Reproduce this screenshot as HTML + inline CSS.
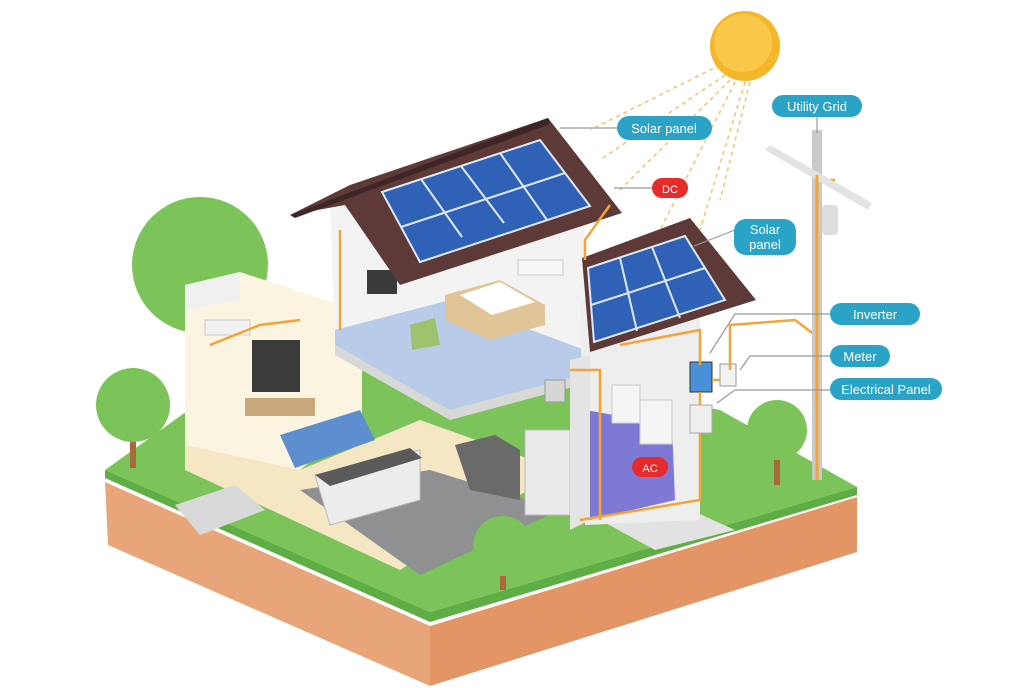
<!DOCTYPE html>
<html><head><meta charset="utf-8"><style>
html,body{margin:0;padding:0;background:#fff;}
svg{display:block}
text{font-family:"Liberation Sans",sans-serif;}
</style></head><body>
<svg width="1036" height="688" viewBox="0 0 1036 688" xmlns="http://www.w3.org/2000/svg">
<!-- sun rays -->
<g stroke="#f5c26b" stroke-width="1.5" stroke-dasharray="4,4" fill="none">
<line x1="720" y1="65" x2="590" y2="130"/><line x1="725" y1="75" x2="600" y2="160"/>
<line x1="730" y1="80" x2="620" y2="190"/><line x1="735" y1="82" x2="660" y2="230"/>
<line x1="745" y1="82" x2="700" y2="230"/><line x1="750" y1="82" x2="720" y2="200"/>
</g>
<circle cx="745" cy="46" r="35" fill="#f6b62b"/>
<circle cx="743" cy="43" r="29" fill="#f9c84a"/>
<!-- ground -->
<polygon points="105,482 430,626 430,686 108,545" fill="#e9a57a"/>
<polygon points="430,626 857,497 857,552 430,686" fill="#e39566"/>
<polygon points="105,470 430,612 857,487 720,410 300,330" fill="#7cc35a"/>
<polygon points="105,478 430,622 857,495 857,487 430,612 105,470" fill="#5fae45"/>
<polygon points="600,520 680,505 735,530 655,550" fill="#e2e2e2"/>
<!-- big tree -->
<circle cx="200" cy="265" r="68" fill="#7cc35a"/>
<!-- left wing -->
<polygon points="185,285 240,272 362,312 362,420 300,470 185,450" fill="#fbf4e1"/>
<polygon points="185,285 240,272 240,300 185,310" fill="#f0f0f0"/>
<polygon points="185,445 300,470 420,420 560,470 400,570 185,470" fill="#f6e7c4"/>
<polygon points="300,490 430,470 560,510 420,575" fill="#8f9092"/>
<rect x="252" y="340" width="48" height="52" fill="#3b3b3b"/>
<rect x="205" y="320" width="45" height="15" fill="#f2f2f2" stroke="#ccc"/>
<rect x="245" y="398" width="70" height="18" fill="#c9a97b"/>
<polygon points="280,435 360,410 375,440 295,468" fill="#5d8fd0"/>
<polygon points="315,475 420,450 420,500 330,525" fill="#ececec" stroke="#bbb"/>
<polygon points="315,475 410,448 422,458 330,486" fill="#5a5a5a"/>
<polygon points="175,505 235,485 265,510 200,535" fill="#d9d9d9"/>
<!-- upper floor -->
<polygon points="330,200 445,150 585,215 585,380 520,380 430,395 335,340" fill="#f3f3f3"/>
<polygon points="335,330 450,300 585,350 580,380 450,410 335,345" fill="#b8ccea"/>
<polygon points="335,345 450,410 580,375 580,385 450,420 335,355" fill="#d8d8d8"/>
<polygon points="445,295 500,280 545,305 545,325 490,340 445,320" fill="#e2c597"/>
<polygon points="460,295 500,282 535,302 492,315" fill="#fff"/>
<rect x="367" y="270" width="30" height="24" fill="#3a3a3a"/>
<polygon points="410,325 435,318 440,345 412,350" fill="#9cc46e"/>
<rect x="518" y="260" width="45" height="15" fill="#f7f7f7" stroke="#ccc"/>
<!-- right section -->
<polygon points="580,300 700,290 700,520 585,525" fill="#eeeeee"/>
<polygon points="585,410 672,425 675,500 590,520" fill="#7f79d6"/>
<rect x="612" y="385" width="28" height="38" fill="#f5f5f5" stroke="#ccc"/>
<rect x="640" y="400" width="32" height="44" fill="#f5f5f5" stroke="#ccc"/>
<polygon points="455,445 495,435 520,450 520,500 470,490" fill="#6a6a6a"/>
<rect x="525" y="430" width="45" height="85" fill="#eaeaea" stroke="#bbb"/>
<rect x="545" y="380" width="20" height="22" fill="#d6d6d6" stroke="#999"/>
<polygon points="570,360 590,355 590,520 570,530" fill="#e4e4e4"/>
<!-- big roof -->
<polygon points="290,215 350,185 548,118 622,213 400,285 345,205" fill="#5d3a38"/>
<polygon points="290,215 548,118 550,124 295,218" fill="#3d2625"/>
<polygon points="382,192 540,140 590,206 420,262" fill="#2f62b6" stroke="#dfe8f5" stroke-width="2"/>
<g stroke="#dfe8f5" stroke-width="2">
<line x1="421" y1="179" x2="462" y2="237"/><line x1="461" y1="166" x2="504" y2="223"/><line x1="500" y1="153" x2="547" y2="220"/>
<line x1="401" y1="227" x2="565" y2="173"/>
</g>
<!-- small roof -->
<polygon points="582,258 690,218 756,300 590,352" fill="#5d3a38"/>
<polygon points="588,268 685,236 725,300 594,342" fill="#2f62b6" stroke="#dfe8f5" stroke-width="2"/>
<g stroke="#dfe8f5" stroke-width="2">
<line x1="620" y1="258" x2="637" y2="331"/><line x1="652" y1="247" x2="680" y2="318"/>
<line x1="591" y1="305" x2="705" y2="268"/>
</g>
<!-- devices -->
<rect x="690" y="362" width="22" height="30" fill="#4a90d9" stroke="#333"/>
<rect x="720" y="364" width="16" height="22" fill="#f2f2f2" stroke="#999"/>
<rect x="690" y="405" width="22" height="28" fill="#eee" stroke="#aaa"/>
<!-- orange wires -->
<g stroke="#f0a53a" stroke-width="2.5" fill="none">
<path d="M610,205 L585,240 L585,260"/>
<path d="M620,345 L700,330 L700,365"/>
<path d="M730,370 L730,325 L795,320 L815,335"/>
<path d="M712,380 L720,380"/><path d="M700,392 L700,405"/>
<path d="M815,180 L835,180"/>
<path d="M580,520 L700,500 L700,433"/>
<path d="M340,230 L340,330"/><path d="M210,345 L260,325 L300,320"/>
<path d="M570,370 L600,370 L600,520"/>
</g>
<!-- pole -->
<rect x="812" y="130" width="10" height="350" fill="#c9c9c9"/>
<polygon points="765,150 770,145 872,203 868,210" fill="#e3e3e3"/>
<rect x="822" y="205" width="16" height="30" rx="4" fill="#ddd"/>
<line x1="817" y1="175" x2="817" y2="480" stroke="#f0a53a" stroke-width="3"/>
<!-- small trees -->
<rect x="130" y="420" width="6" height="48" fill="#a86a3a"/>
<circle cx="133" cy="405" r="37" fill="#7cc35a"/>
<rect x="774" y="440" width="6" height="45" fill="#a86a3a"/>
<circle cx="777" cy="430" r="30" fill="#7cc35a"/>
<rect x="500" y="555" width="6" height="35" fill="#a86a3a"/>
<circle cx="503" cy="546" r="30" fill="#7cc35a"/>
<!-- label leaders -->
<g stroke="#999" stroke-width="1.2" fill="none">
<line x1="817" y1="117" x2="817" y2="133"/>
<line x1="560" y1="128" x2="617" y2="128"/>
<line x1="614" y1="188" x2="652" y2="188"/>
<line x1="694" y1="246" x2="735" y2="230"/>
<path d="M710,353 L735,314 L830,314"/>
<path d="M740,370 L750,356 L830,356"/>
<path d="M717,403 L735,390 L830,390"/>
</g>
<!-- labels -->
<g fill="#2aa3c6">
<rect x="772" y="95" width="90" height="22" rx="11"/>
<rect x="617" y="116" width="95" height="24" rx="12"/>
<rect x="734" y="219" width="62" height="36" rx="12"/>
<rect x="830" y="303" width="90" height="22" rx="11"/>
<rect x="830" y="345" width="60" height="22" rx="11"/>
<rect x="830" y="378" width="112" height="22" rx="11"/>
</g>
<rect x="652" y="178" width="36" height="20" rx="10" fill="#e52b2b"/>
<rect x="632" y="457" width="36" height="20" rx="10" fill="#e52b2b"/>
<g fill="#fff" font-size="13" text-anchor="middle">
<text x="817" y="111">Utility Grid</text>
<text x="664" y="133">Solar panel</text>
<text x="765" y="234">Solar</text><text x="765" y="249">panel</text>
<text x="875" y="319">Inverter</text>
<text x="860" y="361">Meter</text>
<text x="886" y="394">Electrical Panel</text>
<text x="670" y="193" font-size="11">DC</text>
<text x="650" y="472" font-size="11">AC</text>
</g>
</svg>
</body></html>
